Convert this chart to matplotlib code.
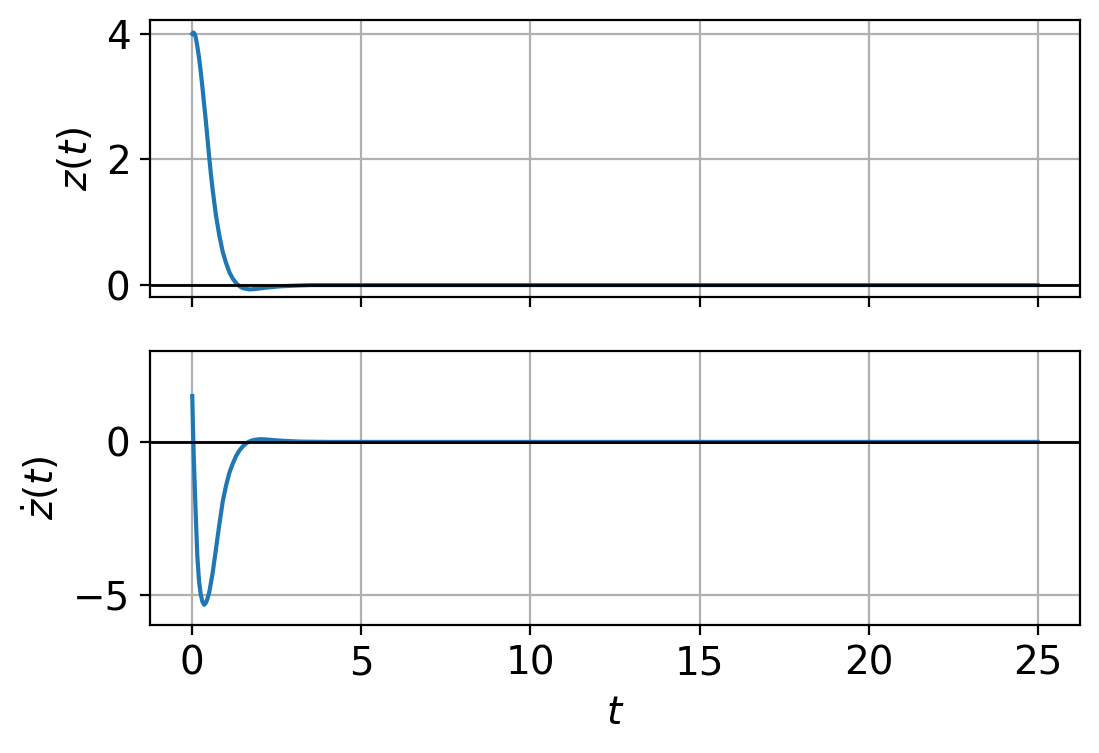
import numpy as np
import matplotlib
matplotlib.use('Agg')
import matplotlib.pyplot as plt

plt.rcParams['font.size'] = 14

# z(t)
t_z = [0, 0.03, 0.06, 0.1, 0.15, 0.2, 0.25, 0.3, 0.35, 0.4, 0.45, 0.5, 0.55, 0.6, 0.7, 0.8, 0.9,
       1.0, 1.1, 1.2, 1.3, 1.4, 1.5, 1.7, 1.9, 2.2, 2.6, 3.0, 3.5, 4.0, 25.0]
z = [4.0, 4.02, 4.01, 3.95, 3.8, 3.62, 3.4, 3.15, 2.88, 2.62, 2.33, 2.04, 1.77, 1.53, 1.11, 0.79, 0.53,
     0.35, 0.2, 0.1, 0.03, -0.02, -0.05, -0.07, -0.06, -0.04, -0.02, -0.01, 0.0, 0.0, 0.0]

# dz/dt
t_dz = [0, 0.01, 0.02, 0.05, 0.1, 0.15, 0.2, 0.25, 0.3, 0.35, 0.4, 0.45, 0.5, 0.6, 0.7, 0.8, 0.9,
        1.0, 1.1, 1.2, 1.3, 1.4, 1.5, 1.6, 1.7, 1.8, 2.0, 2.2, 2.5, 2.8, 3.2, 4.0, 25.0]
dz = [1.5, 1.0, 0.5, -0.7, -2.3, -3.75, -4.55, -4.98, -5.22, -5.32, -5.26, -5.12, -4.92, -4.3, -3.5,
      -2.7, -1.95, -1.42, -1.0, -0.7, -0.45, -0.27, -0.14, -0.04, 0.02, 0.06, 0.09, 0.08, 0.05, 0.03,
      0.01, 0.0, 0.0]

fig, (ax1, ax2) = plt.subplots(2, 1, sharex=True, figsize=(5.495, 3.765), dpi=200)
# axes boxes measured in pixels on the 1099x753 canvas
W, H = 1099.0, 753.0
ax1.set_position([150 / W, 1 - 297 / H, 930 / W, 277 / H])
ax2.set_position([150 / W, 1 - 625 / H, 930 / W, 274 / H])

ax1.plot(t_z, z, color='tab:blue', lw=1.5)
ax1.axhline(0, color='black', lw=1)
ax1.set_ylim(-0.19, 4.22)
ax1.set_yticks([0, 2, 4])
ax1.set_ylabel('$z(t)$')
ax1.grid()

ax2.plot(t_dz, dz, color='tab:blue', lw=1.5)
ax2.axhline(0, color='black', lw=1)
ax2.set_ylim(-5.98, 2.97)
ax2.set_yticks([-5, 0])
ax2.set_ylabel(r'$\dot{z}(t)$')
ax2.set_xlabel('$t$')
ax2.set_xticks([0, 5, 10, 15, 20, 25])
ax2.grid()

plt.savefig('out.png')
